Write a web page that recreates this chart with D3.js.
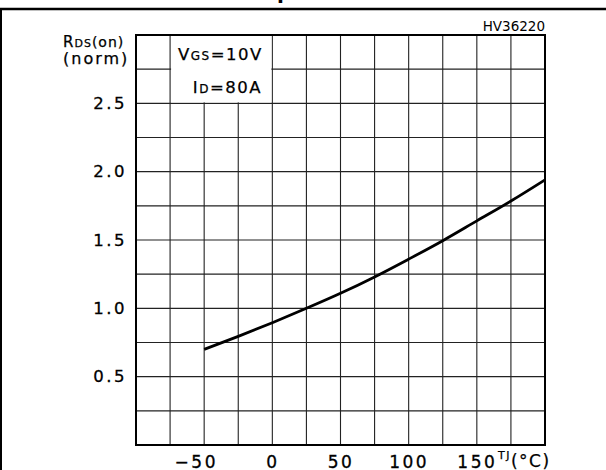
<!DOCTYPE html>
<html>
<head>
<meta charset="utf-8">
<script src="https://cdn.jsdelivr.net/npm/d3@7"></script>
<style>
  body { margin: 0; background: #fff; }
  svg { display: block; font-family: "DejaVu Sans", sans-serif; }
</style>
</head>
<body>
<svg id="chart" width="606" height="470"></svg>
<script>
// junction temperature (degC) and normalized RDS(on)
const tempC = [-50, -25, 0, 25, 50, 75, 100, 125, 150, 175, 200];
const rdsNorm = [0.70, 0.795, 0.895, 1.0, 1.11, 1.23, 1.36, 1.495, 1.64, 1.785, 1.94];

const xTicks = [-50, 0, 50, 100, 150];
const yTicks = [0.5, 1.0, 1.5, 2.0, 2.5];
const xGrid = d3.range(-100, 201, 25);
const yGrid = d3.range(0, 3.001, 0.25);

const svg = d3.select("#chart");

const x = d3.scaleLinear().domain([-100, 200]).range([136, 545]);
const y = d3.scaleLinear().domain([0, 3]).range([445, 35]);

// outer frame (top and left edge of the figure box)
svg.append("line").attr("x1", 0).attr("x2", 606).attr("y1", 9).attr("y2", 9)
    .attr("stroke", "#000").attr("stroke-width", 2.6);
svg.append("line").attr("x1", 1).attr("x2", 1).attr("y1", 9).attr("y2", 470)
    .attr("stroke", "#000").attr("stroke-width", 2);

// title, cut off by the top of the picture (only a descender shows)
let title = svg.append("text")
    .attr("y", -1)
    .attr("font-size", 20)
    .attr("font-weight", "bold")
    .text("Normalized On Resistance vs Temperature");
let pIdx = title.text().indexOf("p");
let pPos = title.node().getStartPositionOfChar(pIdx).x;
title.attr("x", 277 - pPos);

// grid
svg.append("g").selectAll("line").data(xGrid).enter().append("line")
    .attr("x1", d => x(d)).attr("x2", d => x(d))
    .attr("y1", y(3)).attr("y2", y(0))
    .attr("stroke", "#222").attr("stroke-width", 1.1);

svg.append("g").selectAll("line").data(yGrid).enter().append("line")
    .attr("x1", x(-100)).attr("x2", x(200))
    .attr("y1", d => y(d)).attr("y2", d => y(d))
    .attr("stroke", "#222").attr("stroke-width", 1.1);

// label box in the upper left cells
svg.append("rect")
    .attr("x", x(-75) + 1).attr("y", y(3))
    .attr("width", x(0) - x(-75) - 2).attr("height", y(2.5) - y(3) - 1)
    .attr("fill", "#fff");

// plot border
svg.append("rect")
    .attr("x", x(-100)).attr("y", y(3))
    .attr("width", x(200) - x(-100)).attr("height", y(0) - y(3))
    .attr("fill", "none").attr("stroke", "#000").attr("stroke-width", 2);

// curve
let line = d3.line()
    .x(d => x(d[0]))
    .y(d => y(d[1]))
    .curve(d3.curveMonotoneX);

svg.append("path")
    .datum(d3.zip(tempC, rdsNorm))
    .attr("d", line)
    .attr("fill", "none")
    .attr("stroke", "#000")
    .attr("stroke-width", 2.8);

// axes labels
let yAxis = svg.append("g")
    .attr("transform", "translate(" + x(-100) + ",0)")
    .call(d3.axisLeft(y).tickValues(yTicks).tickSize(0).tickPadding(9).tickFormat(d3.format(".1f")));
yAxis.select(".domain").remove();
yAxis.selectAll("text")
    .attr("font-family", "DejaVu Sans")
    .attr("font-size", 16.5)
    .attr("letter-spacing", 2.5)
    .attr("fill", "#000")
    .attr("stroke", "#000").attr("stroke-width", 0.3);

let xAxis = svg.append("g")
    .attr("transform", "translate(0," + y(0) + ")")
    .call(d3.axisBottom(x).tickValues(xTicks).tickSize(0).tickPadding(11).tickFormat(d3.format("d")));
xAxis.select(".domain").remove();
xAxis.selectAll("text")
    .attr("font-family", "DejaVu Sans")
    .attr("font-size", 17)
    .attr("letter-spacing", 2.5)
    .attr("fill", "#000")
    .attr("stroke", "#000").attr("stroke-width", 0.3)
    .each(function(d) {
        // keep the digits centred on the grid line, the minus hangs left
        if (d < 0) {
            let w = this.getSubStringLength(0, 1);
            d3.select(this).attr("dx", -w / 2);
        }
    });

// axis titles
let yTitle = svg.append("text").attr("x", 63).attr("y", 47).attr("font-size", 15)
    .attr("letter-spacing", 1).attr("stroke", "#000").attr("stroke-width", 0.25);
yTitle.append("tspan").text("R");
yTitle.append("tspan").attr("font-size", 11).text("DS");
yTitle.append("tspan").attr("font-size", 14).text("(on)");

svg.append("text").attr("x", 63).attr("y", 64).attr("font-size", 16)
    .attr("letter-spacing", 2).attr("stroke", "#000").attr("stroke-width", 0.25).text("(norm)");

let xTitle = svg.append("text").attr("x", 498).attr("y", 467).attr("font-size", 17)
    .attr("letter-spacing", 1.5).attr("stroke", "#000").attr("stroke-width", 0.25);
xTitle.append("tspan").attr("font-size", 11).attr("dy", -8).text("TJ");
xTitle.append("tspan").attr("dy", 8).text("(°C)");

// test condition labels
let vgs = svg.append("text").attr("x", 178).attr("y", 60).attr("font-size", 16.5)
    .attr("letter-spacing", 1.5).attr("stroke", "#000").attr("stroke-width", 0.25);
vgs.append("tspan").text("V");
vgs.append("tspan").attr("font-size", 12).text("GS");
vgs.append("tspan").text("=10V");

let id = svg.append("text").attr("x", 262).attr("y", 93).attr("font-size", 16.5)
    .attr("text-anchor", "end").attr("letter-spacing", 1.5)
    .attr("stroke", "#000").attr("stroke-width", 0.25);
id.append("tspan").text("I");
id.append("tspan").attr("font-size", 12).text("D");
id.append("tspan").text("=80A");

svg.append("text").attr("x", 545).attr("y", 31).attr("font-size", 13.5)
    .attr("text-anchor", "end").text("HV36220");
</script>
</body>
</html>
